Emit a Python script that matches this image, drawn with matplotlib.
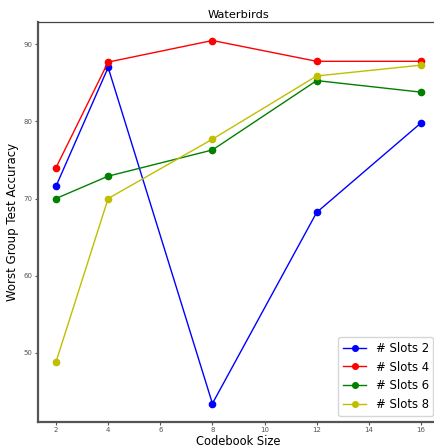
import matplotlib
matplotlib.use("Agg")
import matplotlib.pyplot as plt

# ---------------------------------------------------
# DATA
# ---------------------------------------------------

codebook_sizes = [2, 4, 8, 12, 16]

slots_2 = [71.6, 87.0, 43.4, 68.2, 79.8]
slots_4 = [74.0, 87.7, 90.5, 87.8, 87.8]
slots_6 = [70.0, 72.9, 76.3, 85.3, 83.8]
slots_8 = [48.8, 70.0, 77.7, 85.9, 87.3]

series = [
    ("# Slots 2", slots_2, "b"),
    ("# Slots 4", slots_4, "r"),
    ("# Slots 6", slots_6, "g"),
    ("# Slots 8", slots_8, "y"),
]

# ---------------------------------------------------
# PLOTTING
# ---------------------------------------------------

fig = plt.figure(figsize=(4.34, 4.47), dpi=100)
ax = fig.add_axes([0.087, 0.0566, 0.925, 0.8934])

for label, vals, color in series:
    ax.plot(codebook_sizes, vals, marker="o", color=color, linewidth=1.0,
            markersize=4.5, label=label)

ax.set_title("Waterbirds", fontsize=8.2, pad=3)
ax.set_xlabel("Codebook Size", fontsize=8.3, labelpad=1)
ax.set_ylabel("Worst Group Test Accuracy", fontsize=8.5, labelpad=3)

ax.set_xticks([2, 4, 6, 8, 10, 12, 14, 16])
ax.set_yticks([50, 60, 70, 80, 90])
ax.tick_params(labelsize=5, colors="#555555", length=2, width=0.8, pad=2)

for side in ["left", "bottom"]:
    ax.spines[side].set_linewidth(1.6)
    ax.spines[side].set_color("#555555")
ax.spines["top"].set_linewidth(0.9)
ax.spines["top"].set_color("#444444")

ax.legend(loc="lower right", fontsize=8.4, markerscale=0.9)

fig.savefig("out.png", dpi=100)
plt.close(fig)
